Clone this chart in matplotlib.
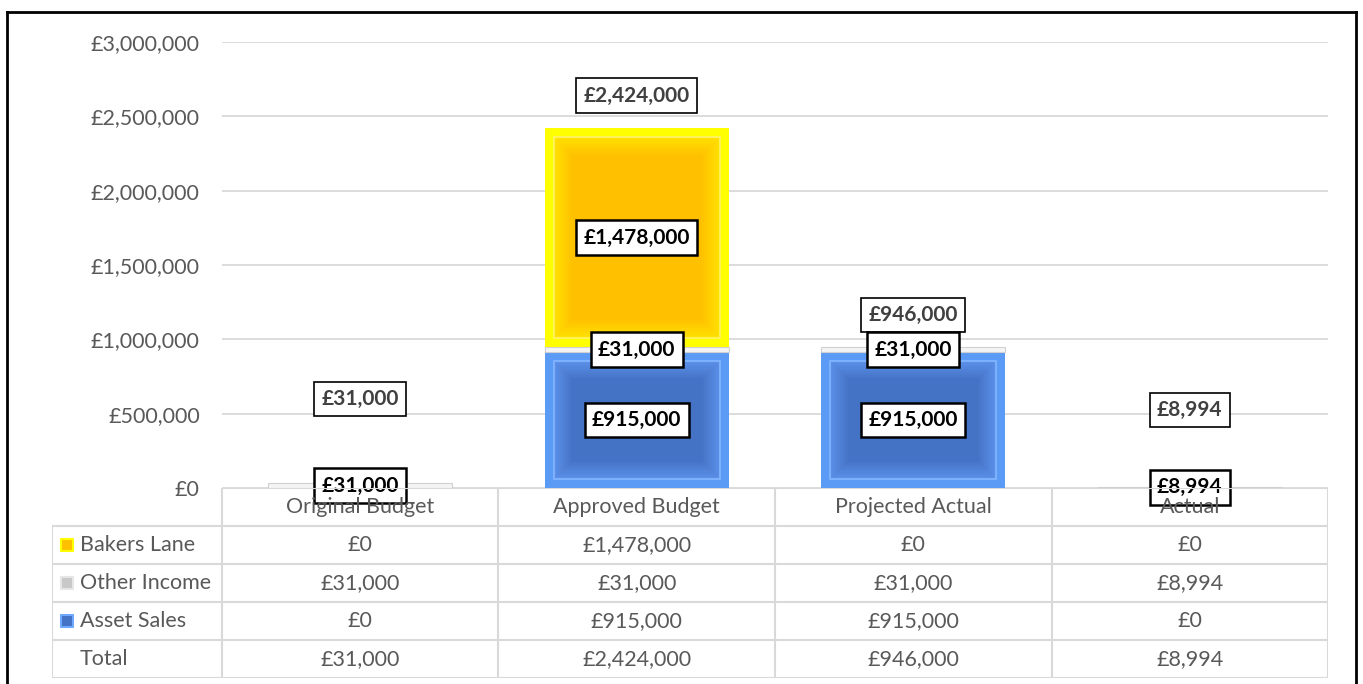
import numpy as np
import matplotlib.pyplot as plt
from matplotlib.lines import Line2D
from matplotlib.colors import to_rgb

plt.rcParams['font.family'] = ['Lato', 'DejaVu Sans']

categories = ['Original Budget', 'Approved Budget', 'Projected Actual', 'Actual']
series_names = ['Bakers Lane', 'Other Income', 'Asset Sales']
bakers_lane = [0, 1478000, 0, 0]
other_income = [31000, 31000, 31000, 8994]
asset_sales = [0, 915000, 915000, 0]
totals = [31000, 2424000, 946000, 8994]
yticks = [0, 500000, 1000000, 1500000, 2000000, 2500000, 3000000]

# where the total labels sit (Excel put them by hand)
total_label_y = [600000, 2640000, 1165000, 525000]

FS = 15.5


def money(v):
    return '£{:,.0f}'.format(v)


W, H = 1363, 684
fig = plt.figure(figsize=(W / 100, H / 100), dpi=100)

# plot area in pixels
x0, x1, y_top, y_zero = 222, 1328, 42, 488
ax = fig.add_axes([x0 / W, 1 - y_zero / H, (x1 - x0) / W, (y_zero - y_top) / H])
ax.set_xlim(-0.5, 3.5)
ax.set_ylim(0, 3000000)
for s in ax.spines.values():
    s.set_visible(False)
ax.set_yticks(yticks)
ax.set_yticklabels([money(v) for v in yticks], color='#595959', fontsize=FS)
ax.tick_params(axis='y', length=0, pad=16)
ax.set_xticks([])
ax.yaxis.grid(True, color='#D9D9D9', lw=1.3)
ax.set_axisbelow(True)

px_x = 4.0 / (x1 - x0)        # data units per pixel
px_y = 3000000 / (y_zero - y_top)

x = np.arange(len(categories))
bw = 0.665


def bevel_bar(vals, bottom, outer, line, edge, inner):
    vals = np.array(vals, dtype=float)
    ax.bar(x, vals, bw, bottom=bottom, color=outer, lw=0, zorder=2)
    c0, c1 = np.array(to_rgb(edge)), np.array(to_rgb(inner))
    steps = list(range(9, 28, 2))
    for k, inset in enumerate(steps):
        t = k / (len(steps) - 1)
        fc = tuple(c0 * (1 - t) + c1 * t)
        h = vals - 2 * inset * px_y
        ok = h > 0
        ec = line if k == 0 else fc
        ax.bar(x[ok], h[ok], bw - 2 * inset * px_x, bottom=bottom[ok] + inset * px_y,
               color=fc, edgecolor=ec, lw=1.2 if k == 0 else 0, zorder=3)


b0 = np.zeros(len(categories))
bevel_bar(asset_sales, b0, '#5B9BF5', '#86B6FF', '#5A8FE8', '#4472C4')
b1 = b0 + np.array(asset_sales)
ax.bar(x, other_income, bw, bottom=b1, color='#F4F4F4', edgecolor='#D0D0D0', lw=0.8, zorder=2)
b2 = b1 + np.array(other_income)
bevel_bar(bakers_lane, b2, '#FFFF00', '#FFF36A', '#FFE000', '#FFC000')

# segment labels
seg_box = dict(boxstyle='square,pad=0.35', fc='white', ec='black', lw=1.8)
for vals, bottom in [(asset_sales, b0), (other_income, b1), (bakers_lane, b2)]:
    for i, v in enumerate(vals):
        if v > 0:
            ax.text(x[i], bottom[i] + v / 2, money(v), ha='center', va='center',
                    fontsize=15, fontweight='bold', color='black', bbox=seg_box, zorder=6)

tot_box = dict(boxstyle='square,pad=0.35', fc='white', ec='black', lw=1.2)
for i, v in enumerate(totals):
    ax.text(x[i], total_label_y[i], money(v), ha='center', va='center',
            fontsize=15, fontweight='bold', color='#404040', bbox=tot_box, zorder=5)

# data table under the chart
t_left, t_bot = 52, 678
tax = fig.add_axes([t_left / W, 1 - t_bot / H, (x1 - t_left) / W, (t_bot - y_zero) / H])
lead = (x0 - t_left) * px_x
tax.set_xlim(-0.5 - lead, 3.5)
tax.set_ylim(5, 0)
tax.axis('off')
lc = '#D9D9D9'
tax.add_line(Line2D([-0.5, 3.5], [0, 0], color=lc, lw=1.5))
for r in range(1, 6):
    tax.add_line(Line2D([-0.5 - lead, 3.5], [r, r], color=lc, lw=1.5))
tax.add_line(Line2D([-0.5 - lead] * 2, [1, 5], color=lc, lw=1.5))
for c in range(5):
    tax.add_line(Line2D([c - 0.5] * 2, [0, 5], color=lc, lw=1.5))

txt = dict(ha='center', va='center', fontsize=FS, color='#595959')
for i, cat in enumerate(categories):
    tax.text(i, 0.5, cat, **txt)

rows = [bakers_lane, other_income, asset_sales, totals]
row_names = series_names + ['Total']
swatch = [('#FFC000', '#FFFF00'), ('#C8C8C8', '#E6E6E6'), ('#4472C4', '#6FA8FF')]
for r, (name, vals) in enumerate(zip(row_names, rows)):
    yy = r + 1.5
    tax.text(-0.5 - lead + 28 * px_x, yy, name, ha='left', va='center',
             fontsize=FS, color='#595959')
    if r < 3:
        tax.scatter([-0.5 - lead + 15 * px_x], [yy], marker='s', s=70,
                    c=swatch[r][0], edgecolors=swatch[r][1], linewidths=1.5, zorder=3)
    for i, v in enumerate(vals):
        tax.text(i, yy, money(v), **txt)

# black frame round the chart
for xs, ys in [([7, 7], [12, 684]), ([7, 1356], [12, 12]), ([1356, 1356], [12, 684])]:
    fig.add_artist(Line2D([v / W for v in xs], [1 - v / H for v in ys],
                          color='black', lw=2, transform=fig.transFigure))

fig.savefig('out.png', dpi=100)
